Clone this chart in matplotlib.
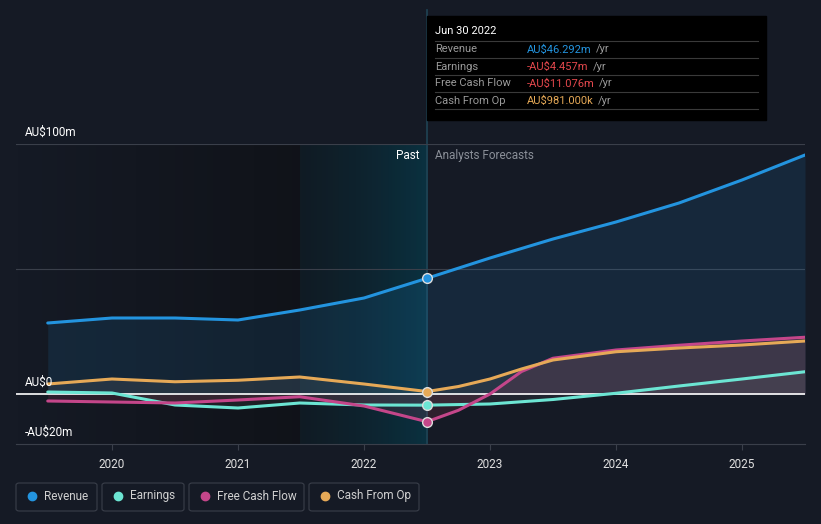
import matplotlib.pyplot as plt
import numpy as np
from matplotlib.patches import FancyBboxPatch, Rectangle

plt.rcParams['font.family'] = ['Roboto', 'DejaVu Sans']

# values in AU$ millions, x in decimal years
past_x = [2019.49, 2020.0, 2020.5, 2021.0, 2021.49, 2022.0, 2022.5]
revenue_past = [28.4, 30.4, 30.4, 29.6, 33.6, 38.4, 46.292]
earnings_past = [0.8, 0.4, -4.4, -5.6, -3.6, -4.4, -4.457]
fcf_past = [-2.8, -3.2, -3.6, -2.4, -1.1, -4.8, -11.076]
cfo_past = [4.0, 6.0, 4.9, 5.5, 6.8, 4.0, 0.981]

fc_x = [2022.5, 2023.0, 2023.5, 2024.0, 2024.5, 2025.0, 2025.5]
revenue_fc = [46.292, 54.4, 62.0, 68.8, 76.4, 85.6, 95.6]
earnings_fc = [-4.457, -4.0, -2.2, 0.3, 3.2, 6.0, 8.9]

fc_x2 = [2022.5, 2022.75, 2023.0, 2023.25, 2023.5, 2024.0, 2024.5, 2025.0, 2025.5]
fcf_fc = [-11.076, -6.5, 0.0, 9.0, 14.3, 17.6, 19.5, 21.2, 22.7]
cfo_fc = [0.981, 3.0, 6.0, 10.0, 13.6, 16.9, 18.4, 19.6, 21.2]

year_ticks = [2020, 2021, 2022, 2023, 2024, 2025]

c_rev = '#2394df'
c_earn = '#6ce5d3'
c_fcf = '#c4468a'
c_cfo = '#e6a957'
bg = '#151a25'

fig = plt.figure(figsize=(8.21, 5.24), dpi=100)
fig.patch.set_facecolor(bg)
W, H = 821.0, 524.0
ax = fig.add_axes([16/W, 1-444/H, (805-16)/W, 300/H])
ax.set_facecolor(bg)
ax.set_xlim(2019.238, 2025.5)
ax.set_ylim(-20, 100)

# past region shading
grad = np.linspace(0, 1, 256).reshape(1, -1)
dark = np.zeros((1, 256, 4))
dark[..., 0] = 0.06; dark[..., 1] = 0.07; dark[..., 2] = 0.09
dark[..., 3] = grad * 0.8
ax.imshow(dark, extent=[2019.238, 2021.49, -20, 100], aspect='auto', zorder=0)
teal = np.zeros((1, 256, 4))
teal[..., 0] = 0.05 - grad * 0.01
teal[..., 1] = 0.11 + grad * 0.09
teal[..., 2] = 0.14 + grad * 0.12
teal[..., 3] = 0.55 + grad * 0.4
ax.imshow(teal, extent=[2021.49, 2022.5, -20, 100], aspect='auto', zorder=0)

# grid
for g in [100, 50]:
    ax.axhline(g, color='#3a3f4a', lw=0.8, zorder=1)

all_x = past_x + fc_x[1:]
all_rev = revenue_past + revenue_fc[1:]
all_earn = earnings_past + earnings_fc[1:]
all_x2 = past_x + fc_x2[1:]
all_fcf = fcf_past + fcf_fc[1:]
all_cfo = cfo_past + cfo_fc[1:]

ax.fill_between(all_x, all_rev, 0, color=c_rev, alpha=0.12, lw=0, zorder=1.5)
ax.fill_between(all_x2, all_cfo, 0, color='#8a8a8a', alpha=0.15, lw=0, zorder=1.6)
ax.fill_between(all_x2, all_fcf, 0, color='#c04060', alpha=0.15, lw=0, zorder=1.6)
ax.fill_between(all_x, all_earn, 0, color='#8a8a8a', alpha=0.1, lw=0, zorder=1.6)

ax.axhline(0, color='white', lw=1.2, zorder=2)

ax.plot(all_x, all_rev, color=c_rev, lw=2.2, zorder=3, solid_capstyle='round')
ax.plot(all_x, all_earn, color=c_earn, lw=2.2, zorder=3, solid_capstyle='round')
ax.plot(all_x2, all_fcf, color=c_fcf, lw=2.2, zorder=3, solid_capstyle='round')
ax.plot(all_x2, all_cfo, color=c_cfo, lw=2.2, zorder=3, solid_capstyle='round')

for v, c in [(revenue_past[-1], c_rev), (earnings_past[-1], c_earn),
             (fcf_past[-1], c_fcf), (cfo_past[-1], c_cfo)]:
    ax.plot([2022.5], [v], 'o', ms=7, mfc=c, mec='#dddddd', mew=1, zorder=5)

# vertical "now" line extending to the tooltip
ax.plot([2022.5, 2022.5], [-20, 100 + 134/2.5], color='#1f4455', lw=1.2,
        zorder=0.8, clip_on=False)

for s in ['top', 'right', 'left']:
    ax.spines[s].set_visible(False)
ax.spines['bottom'].set_color('#3a3f4a')
ax.set_yticks([])
ax.set_xticks(year_ticks)
ax.set_xticklabels([str(y) for y in year_ticks], fontsize=8.5)
ax.tick_params(axis='x', colors='#3a3f4a', length=4, pad=6, labelcolor='#e0e0e0')

fig.text(25/W, 1-132/H, 'AU$100m', color='white', fontsize=8.5, va='center')
fig.text(25/W, 1-382/H, 'AU$0', color='white', fontsize=8.5, va='center')
fig.text(25/W, 1-432/H, '-AU$20m', color='white', fontsize=8.5, va='center')
fig.text(419/W, 1-156/H, 'Past', color='white', fontsize=8.5, va='center', ha='right')
fig.text(435/W, 1-156/H, 'Analysts Forecasts', color='#8a8f98', fontsize=8.5, va='center')

# tooltip
fig.patches.append(Rectangle((427/W, 1-120/H), (766-427)/W, 104/H,
                             transform=fig.transFigure, color='black', zorder=10))
fig.text(435/W, 1-31/H, 'Jun 30 2022', color='white', fontsize=8, va='center', zorder=11)
for yy in [41, 58, 75, 92, 109]:
    fig.add_artist(plt.Line2D([435/W, 758/W], [1-yy/H, 1-yy/H], color='#3a3a3a',
                              lw=0.8, transform=fig.transFigure, zorder=11))
rows = [('Revenue', 'AU$46.292m', c_rev), ('Earnings', '-AU$4.457m', '#e5484d'),
        ('Free Cash Flow', '-AU$11.076m', '#e5484d'), ('Cash From Op', 'AU$981.000k', c_cfo)]
renderer = fig.canvas.get_renderer()
for i, (lab, val, col) in enumerate(rows):
    yy = 1 - (49.5 + 17*i)/H
    fig.text(435/W, yy, lab, color='#9a9a9a', fontsize=8, va='center', zorder=11)
    t = fig.text(527/W, yy, val, color=col, fontsize=8, va='center', zorder=11)
    bb = t.get_window_extent(renderer)
    fig.text((bb.x1 + 4)/W, yy, '/yr', color='#9a9a9a', fontsize=8, va='center', zorder=11)

# legend
items = [('Revenue', c_rev, 16, 97), ('Earnings', c_earn, 102, 184),
         ('Free Cash Flow', c_fcf, 189, 304), ('Cash From Op', c_cfo, 309, 419)]
for lab, col, x0, x1 in items:
    fig.patches.append(FancyBboxPatch((x0/W, 1-511/H), (x1-x0)/W, 28/H,
                                      boxstyle='round,pad=0,rounding_size=0.004',
                                      transform=fig.transFigure, fc=bg, ec='#3a3f4a', lw=0.8))
    fig.add_artist(plt.Line2D([(x0+16)/W], [1-496/H], marker='o', ms=6, color=col,
                              transform=fig.transFigure))
    fig.text((x0+28)/W, 1-496/H, lab, color='#d0d0d0', fontsize=8.5, va='center')

fig.savefig('out.png', dpi=100, facecolor=bg)
